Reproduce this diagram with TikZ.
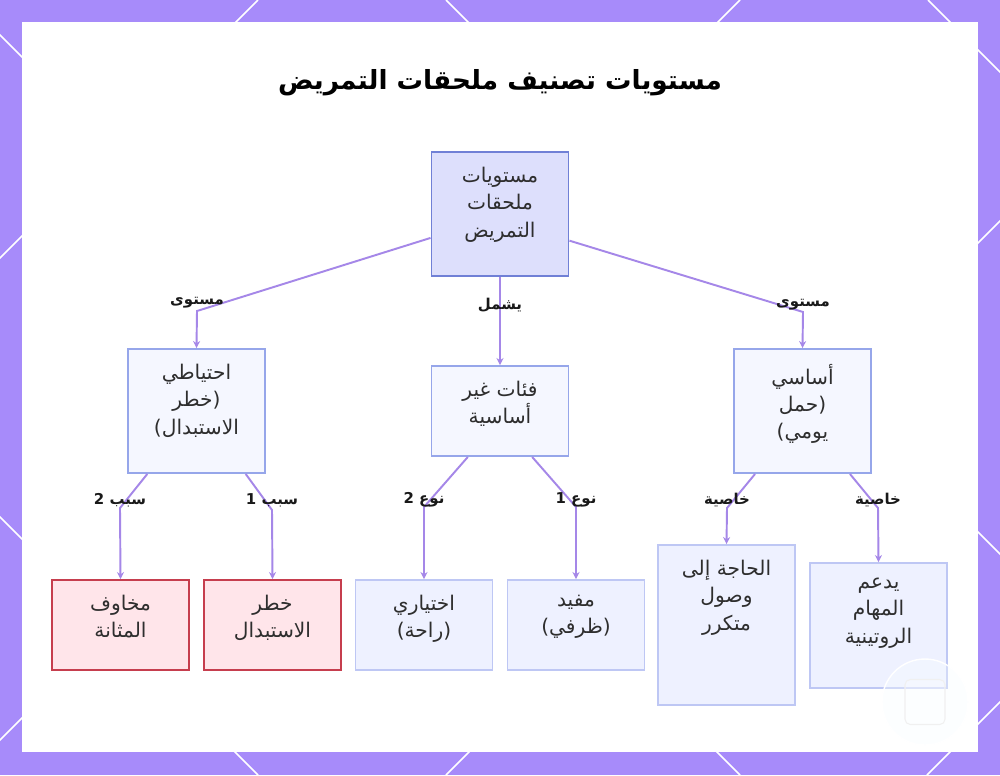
\documentclass[tikz,border=0pt]{standalone}
\usepackage{fontspec}
\usetikzlibrary{arrows.meta,positioning}
\newfontfamily\arabicfont[Script=Arabic]{DejaVu Sans}
\TeXXeTstate=1
\newcommand{\artxt}[1]{\beginR #1\endR}

\definecolor{framepurple}{RGB}{167,139,250}
\definecolor{linkpurple}{RGB}{165,135,232}
\definecolor{rootfill}{RGB}{221,223,252}
\definecolor{rootline}{RGB}{112,128,214}
\definecolor{midfill}{RGB}{245,247,255}
\definecolor{midline}{RGB}{150,166,234}
\definecolor{leaffill}{RGB}{238,241,255}
\definecolor{leafline}{RGB}{190,199,244}
\definecolor{riskfill}{RGB}{255,229,234}
\definecolor{riskline}{RGB}{198,62,78}

\tikzset{
  frameline/.style={draw=white, line width=0.9pt},
  linkline/.style={draw=linkpurple, line width=1.1pt, -{Stealth[length=4pt,width=4pt]}},
  boxbase/.style={rectangle, line width=1.1pt, inner sep=0pt, minimum width=2.74cm},
  rootbox/.style={boxbase, draw=rootline, fill=rootfill},
  levelbox/.style={boxbase, draw=midline, fill=midfill},
  leafbox/.style={boxbase, draw=leafline, fill=leaffill},
  riskbox/.style={boxbase, draw=riskline, fill=riskfill},
  boxtext/.style={anchor=north, align=center, inner sep=0pt, text=black!82,
    font=\arabicfont\fontsize{11.5}{15.5}\selectfont},
  linklabel/.style={inner sep=1pt, text=black!90,
    font=\arabicfont\bfseries\fontsize{8.5}{10}\selectfont}
}

\begin{document}
\begin{tikzpicture}[x=0.02cm, y=-0.02cm]
  \useasboundingbox (0,0) rectangle (1000,775);
  % frame and panel
  \fill[framepurple] (0,0) rectangle (1000,775);
  \begin{scope}
    \clip (0,0) rectangle (1000,775);
    \foreach \c in {258,740,1221,1702} \draw[frameline] (\c,0) -- (\c-775,775);
    \foreach \c in {-517,-35,446,928} \draw[frameline] (\c,0) -- (\c+775,775);
  \end{scope}
  \fill[white] (22,22) rectangle (978,752);

  \node (title) at (500,83) {\arabicfont\bfseries\fontsize{15}{19}\selectfont\artxt{مستويات تصنيف ملحقات التمريض}};

  % boxes
  \node[rootbox, minimum height=2.48cm] (root) at (500,214) {};
  \node[levelbox, minimum height=2.48cm] (lvlA) at (196.5,411) {};
  \node[levelbox, minimum height=1.8cm] (lvlB) at (500,411) {};
  \node[levelbox, minimum height=2.48cm] (lvlC) at (802.5,411) {};
  \node[riskbox, minimum height=1.8cm] (bladder) at (120.5,625) {};
  \node[riskbox, minimum height=1.8cm] (replace) at (272.5,625) {};
  \node[leafbox, minimum height=1.8cm] (optional) at (424,625) {};
  \node[leafbox, minimum height=1.8cm] (useful) at (576,625) {};
  \node[leafbox, minimum height=3.2cm] (access) at (726.5,625) {};
  \node[leafbox, minimum height=2.5cm] (routine) at (878.5,625.5) {};

  \node[boxtext, below=9pt of root.north] (rootT) {\artxt{مستويات}\\\artxt{ملحقات}\\\artxt{التمريض}};
  \node[boxtext, below=9pt of lvlA.north] (lvlAT) {\artxt{احتياطي}\\\artxt{(خطر}\\\artxt{الاستبدال)}};
  \node[boxtext, below=9pt of lvlB.north] (lvlBT) {\artxt{فئات غير}\\\artxt{أساسية}};
  \node[boxtext, below=9pt of lvlC.north] (lvlCT) {\artxt{أساسي}\\\artxt{(حمل}\\\artxt{يومي)}};
  \node[boxtext, below=9pt of bladder.north] (bladderT) {\artxt{مخاوف}\\\artxt{المثانة}};
  \node[boxtext, below=9pt of replace.north] (replaceT) {\artxt{خطر}\\\artxt{الاستبدال}};
  \node[boxtext, below=9pt of optional.north] (optionalT) {\artxt{اختياري}\\\artxt{(راحة)}};
  \node[boxtext, below=9pt of useful.north] (usefulT) {\artxt{مفيد}\\\artxt{(ظرفي)}};
  \node[boxtext, below=9pt of access.north] (accessT) {\artxt{الحاجة إلى}\\\artxt{وصول}\\\artxt{متكرر}};
  \node[boxtext, below=9pt of routine.north] (routineT) {\artxt{يدعم}\\\artxt{المهام}\\\artxt{الروتينية}};

  % links
  \coordinate (kA) at (197,311);
  \coordinate (kC) at (803,312);
  \coordinate (kA1) at (120,508);
  \coordinate (kA2) at (272,510);
  \coordinate (kB1) at (424,507);
  \coordinate (kB2) at (576,507);
  \coordinate (kC1) at (727,508);
  \coordinate (kC2) at (878,508);
  \draw[linkline] (root.199) -- (kA) -- (lvlA.north);
  \draw[linkline] (root.south) -- (lvlB.north);
  \draw[linkline] (root.339) -- (kC) -- (lvlC.north);
  \draw[linkline] (lvlA.232) -- (kA1) -- (bladder.north);
  \draw[linkline] (lvlA.308) -- (kA2) -- (replace.north);
  \draw[linkline] (lvlB.235) -- (kB1) -- (optional.north);
  \draw[linkline] (lvlB.305) -- (kB2) -- (useful.north);
  \draw[linkline] (lvlC.233) -- (kC1) -- (access.north);
  \draw[linkline] (lvlC.307) -- (kC2) -- (routine.north);

  \node[linklabel] (lblA) at (197,303) {\artxt{مستوى}};
  \node[linklabel] (lblB) at (500,305) {\artxt{يشمل}};
  \node[linklabel] (lblC) at (803,305) {\artxt{مستوى}};
  \node[linklabel] (lblA1) at (120,500) {\artxt{سبب 2}};
  \node[linklabel] (lblA2) at (272,500) {\artxt{سبب 1}};
  \node[linklabel] (lblB1) at (424,500) {\artxt{نوع 2}};
  \node[linklabel] (lblB2) at (576,500) {\artxt{نوع 1}};
  \node[linklabel] (lblC1) at (727,500) {\artxt{خاصية}};
  \node[linklabel] (lblC2) at (878,500) {\artxt{خاصية}};

  % watermark
  \node[circle, minimum size=1.72cm, draw=white, line width=0.8pt, fill=cyan!3, fill opacity=0.35] (mark) at (925,702) {};
  \node[rectangle, rounded corners=3pt, minimum width=0.8cm, minimum height=0.9cm, draw=black!6, line width=0.6pt, fill=white, fill opacity=0.25] (markicon) at (mark.center) {};
\end{tikzpicture}
\end{document}
